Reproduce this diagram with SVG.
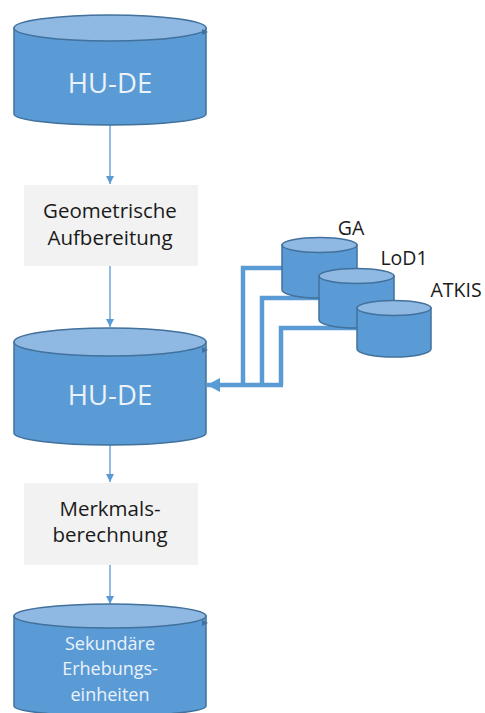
<svg xmlns="http://www.w3.org/2000/svg" width="485" height="713" viewBox="0 0 485 713">
<style>
.body{fill:#5B9BD5;stroke:#41719C;stroke-width:1.5}
.top{fill:#8FB8E3;stroke:#41719C;stroke-width:1.5}
.box{fill:#F2F2F2}
.lbl{font-family:"Open Sans","Liberation Sans",sans-serif;fill:#1a1a1a;text-anchor:middle}
.cyl{font-family:"Open Sans","Liberation Sans",sans-serif;fill:#EAF2FB;text-anchor:middle}
.thin{stroke:#6FA6DC;stroke-width:1.5;fill:none}
.thick{stroke:#5B9BD5;stroke-width:4.5;fill:none}
.tri{fill:#41719C}
</style>
<defs>
<marker id="ah" markerWidth="10" markerHeight="10" refX="8" refY="4" orient="auto" markerUnits="userSpaceOnUse">
<path d="M0,0 L8,4 L0,8 Z" fill="#5B9BD5"/>
</marker>
<marker id="ahb" markerWidth="16" markerHeight="16" refX="13" refY="7" orient="auto" markerUnits="userSpaceOnUse">
<path d="M0,0 L13,7 L0,14 Z" fill="#5B9BD5"/>
</marker>
</defs>

<g id="connectors">
<line class="thin" x1="110" y1="125" x2="110" y2="184" marker-end="url(#ah)"/>
<line class="thin" x1="110" y1="266" x2="110" y2="327" marker-end="url(#ah)"/>
<line class="thin" x1="110" y1="445" x2="110" y2="482" marker-end="url(#ah)"/>
<line class="thin" x1="110" y1="565" x2="110" y2="604" marker-end="url(#ah)"/>
<polyline class="thick" points="284,268 243,268 243,385"/>
<polyline class="thick" points="321,298 262,298 262,385"/>
<polyline class="thick" points="359,328 281,328 281,385"/>
<line class="thick" x1="283" y1="385" x2="207" y2="385" marker-end="url(#ahb)"/>
</g>

<g id="hu-de-1">
<path class="body" d="M14,28 L14,114 A96,11 0 0 0 206,114 L206,28 Z"/>
<ellipse class="top" cx="110" cy="28" rx="96" ry="13"/>
<path class="tri" d="M202,29 L208,32 L202,35 Z"/>
<text class="cyl" x="110" y="93" font-size="27.5">HU-DE</text>
</g>

<g id="geometrische">
<rect class="box" x="24" y="185" width="174" height="81"/>
<text class="lbl" x="110" y="218" font-size="20.5">Geometrische</text>
<text class="lbl" x="110" y="245" font-size="20.5">Aufbereitung</text>
</g>

<g id="hu-de-2">
<path class="body" d="M14,342 L14,433 A96,12 0 0 0 206,433 L206,342 Z"/>
<ellipse class="top" cx="110" cy="342" rx="96" ry="14"/>
<path class="tri" d="M202,347 L208,350 L202,353 Z"/>
<text class="cyl" x="110" y="405" font-size="27.5">HU-DE</text>
</g>

<g id="ga">
<path class="body" d="M282,245 L282,290 A37.5,8 0 0 0 357,290 L357,245 Z"/>
<ellipse class="top" cx="319.5" cy="245" rx="37.5" ry="7.5"/>
<text class="lbl" x="351" y="235" font-size="19.5">GA</text>
</g>

<g id="lod1">
<path class="body" d="M319,276 L319,320 A37.5,8 0 0 0 394,320 L394,276 Z"/>
<ellipse class="top" cx="356.5" cy="276" rx="37.5" ry="7.5"/>
<text class="lbl" x="404" y="265" font-size="19.5">LoD1</text>
</g>

<g id="atkis">
<path class="body" d="M357,308 L357,349 A37,8 0 0 0 431,349 L431,308 Z"/>
<ellipse class="top" cx="394" cy="308" rx="37" ry="7.5"/>
<text class="lbl" x="456" y="297" font-size="19.5">ATKIS</text>
</g>

<g id="merkmals">
<rect class="box" x="24" y="483" width="174" height="82"/>
<text class="lbl" x="110" y="516" font-size="20.5">Merkmals-</text>
<text class="lbl" x="110" y="542" font-size="20.5">berechnung</text>
</g>

<g id="sekundaere">
<path class="body" d="M14,616 L14,706 A96,10 0 0 0 206,706 L206,616 Z"/>
<ellipse class="top" cx="110" cy="616" rx="96" ry="12"/>
<path class="tri" d="M202,620 L208,623 L202,626 Z"/>
<text class="cyl" x="110" y="650" font-size="18">Sekundäre</text>
<text class="cyl" x="110" y="675" font-size="18">Erhebungs-</text>
<text class="cyl" x="110" y="701" font-size="18">einheiten</text>
</g>
</svg>
